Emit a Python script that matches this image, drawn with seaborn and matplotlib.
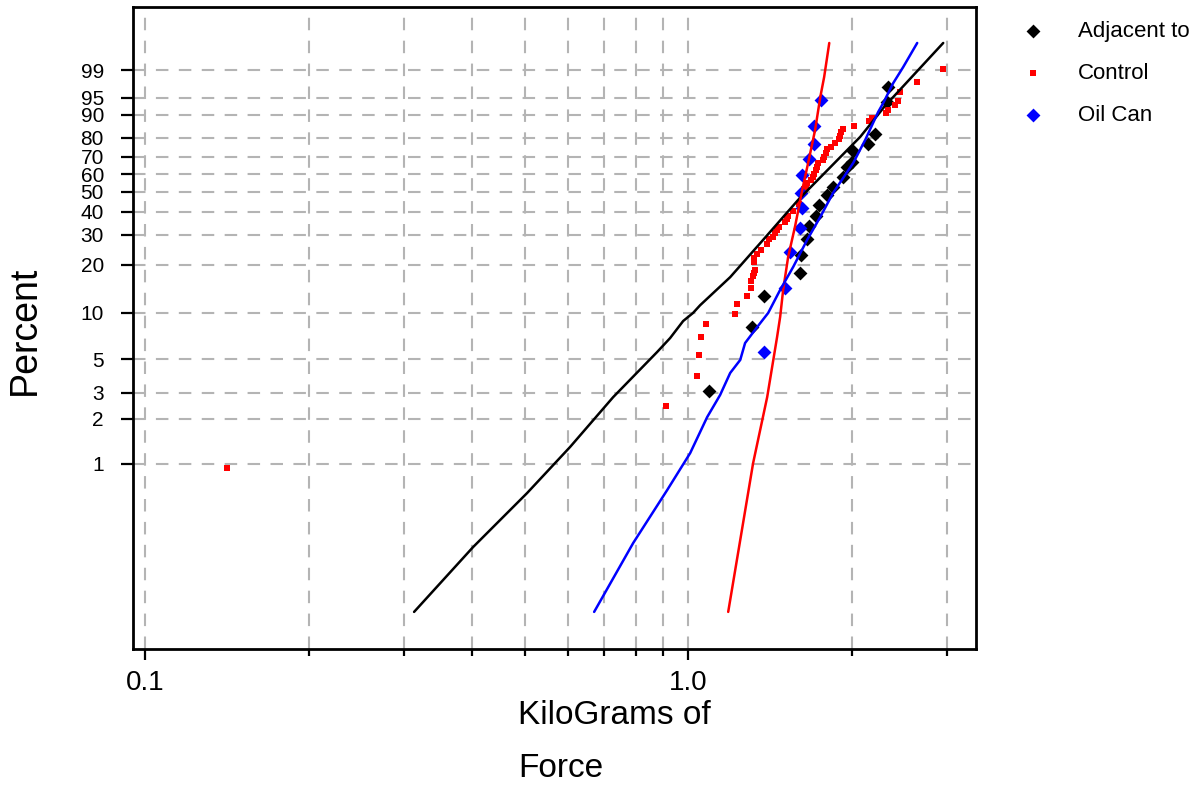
import numpy as np
import pandas as pd
import matplotlib
matplotlib.use("Agg")
import matplotlib.pyplot as plt
import seaborn as sns
from matplotlib.ticker import FixedLocator, NullLocator, FixedFormatter, NullFormatter

# --- data (x = kg of force, y = cumulative percent) ---
adj_force = [1.093, 1.312, 1.380, 1.608, 1.615, 1.656, 1.671, 1.721, 1.743, 1.803,
             1.849, 1.930, 1.963, 2.005, 2.013, 2.145, 2.210, 2.326, 2.335]
adj_pct = [3.08, 8.11, 12.8, 17.8, 22.9, 28.3, 33.5, 37.9, 43.2, 48.4,
           52.7, 58.3, 64.1, 66.9, 73.1, 76.9, 81.9, 94.0, 97.1]

ctl_force = [0.1416, 0.911, 1.039, 1.048, 1.057, 1.079, 1.220, 1.231, 1.284, 1.306,
             1.306, 1.317, 1.323, 1.328, 1.323, 1.323, 1.340, 1.363, 1.398, 1.410,
             1.434, 1.446, 1.458, 1.471, 1.509, 1.522, 1.528, 1.561, 1.601, 1.622,
             1.635, 1.649, 1.656, 1.685, 1.699, 1.706, 1.721, 1.728, 1.736, 1.773,
             1.780, 1.796, 1.803, 1.834, 1.865, 1.897, 1.905, 1.913, 1.930, 2.022,
             2.154, 2.182, 2.316, 2.335, 2.406, 2.436, 2.457, 2.641, 2.949]
ctl_pct = [0.94, 2.44, 3.87, 5.32, 6.99, 8.49, 9.84, 11.4, 12.8, 14.4,
           15.9, 17.1, 17.8, 18.6, 20.8, 22.0, 23.2, 24.5, 26.5, 28.3,
           29.1, 30.6, 31.9, 33.1, 35.2, 36.6, 37.9, 40.3, 43.7, 48.9,
           51.6, 53.3, 54.9, 56.6, 58.3, 60.0, 62.3, 64.1, 66.3, 68.1,
           69.8, 72.0, 74.2, 75.3, 77.4, 79.5, 81.0, 82.9, 84.3, 85.6,
           87.7, 88.9, 90.7, 91.7, 93.2, 94.3, 96.3, 97.9, 99.1]

oil_force = [1.380, 1.509, 1.541, 1.608, 1.622, 1.615, 1.622, 1.671, 1.706, 1.706, 1.758]
oil_pct = [5.57, 14.4, 23.8, 32.7, 41.7, 49.5, 59.5, 68.6, 76.9, 85.6, 94.5]

# fitted curves
adj_fit_x = [0.3128, 0.4018, 0.5053, 0.6064, 0.7277, 0.8767, 0.9265, 0.979, 1.021, 1.052,
             1.195, 1.374, 1.594, 2.074, 2.257, 2.326, 2.385, 2.949]
adj_fit_p = [0.1, 0.2745, 0.636, 1.30, 2.80, 5.57, 6.88, 8.87, 10.0, 11.2,
             16.8, 28.0, 45.8, 80.5, 91.0, 93.75, 95.2, 99.914]

ctl_fit_x = [1.185, 1.317, 1.398, 1.458, 1.477, 1.496, 1.528, 1.574, 1.622, 1.663,
             1.713, 1.751, 1.780, 1.803, 1.819]
ctl_fit_p = [0.1, 1.01, 2.80, 6.99, 9.42, 14.0, 22.3, 33.5, 51.1, 66.3,
             83.8, 95.2, 98.43, 99.66, 99.914]

oil_fit_x = [0.6712, 0.792, 0.915, 1.0085, 1.084, 1.145, 1.195, 1.247, 1.273, 1.340,
             1.404, 1.477, 1.561, 1.656, 1.751, 1.849, 2.013, 2.118, 2.238, 2.287,
             2.385, 2.489, 2.641]
oil_fit_p = [0.1, 0.292, 0.666, 1.18, 2.06, 2.89, 4.05, 4.94, 6.38, 8.11,
             10.0, 14.0, 19.4, 28.0, 37.5, 49.5, 66.3, 78.9, 91.0, 93.75,
             97.7, 99.22, 99.914]

y_ticks = [1, 2, 3, 5, 10, 20, 30, 40, 50, 60, 70, 80, 90, 95, 99]
x_major = [0.1, 1.0]
x_major_labels = ["0.1", "1.0"]
x_minor = [0.2, 0.3, 0.4, 0.5, 0.6, 0.7, 0.8, 0.9, 2, 3]

adj = pd.DataFrame({"force": adj_force, "pct": adj_pct})
ctl = pd.DataFrame({"force": ctl_force, "pct": ctl_pct})
oil = pd.DataFrame({"force": oil_force, "pct": oil_pct})


def weib(p):
    q = np.clip(np.asarray(p, dtype=float) / 100.0, 1e-12, 1 - 1e-12)
    return np.log(-np.log(1 - q))


def weib_inv(w):
    return 100.0 * (1 - np.exp(-np.exp(np.asarray(w, dtype=float))))


sns.set_style("white")
plt.rcParams["font.family"] = ["Liberation Sans", "DejaVu Sans"]
plt.rcParams["text.color"] = "black"
plt.rcParams["xtick.color"] = "black"
plt.rcParams["ytick.color"] = "black"

fig = plt.figure(figsize=(12.04, 7.89), dpi=100)
ax = fig.add_axes([0.1105, 0.1774, 0.7002, 0.8137])

sns.scatterplot(data=adj, x="force", y="pct", ax=ax, color="black", marker="D",
                s=50, linewidth=0, label="Adjacent to", zorder=3)
sns.scatterplot(data=ctl, x="force", y="pct", ax=ax, color="red", marker="s",
                s=18, linewidth=0, label="Control", zorder=3)
sns.scatterplot(data=oil, x="force", y="pct", ax=ax, color="blue", marker="D",
                s=50, linewidth=0, label="Oil Can", zorder=3)

sns.lineplot(x=adj_fit_x, y=adj_fit_p, ax=ax, color="black", lw=1.8, sort=False,
             estimator=None, zorder=4)
sns.lineplot(x=ctl_fit_x, y=ctl_fit_p, ax=ax, color="red", lw=1.8, sort=False,
             estimator=None, zorder=4)
sns.lineplot(x=oil_fit_x, y=oil_fit_p, ax=ax, color="blue", lw=1.8, sort=False,
             estimator=None, zorder=4)

ax.set_xscale("log")
ax.set_yscale("function", functions=(weib, weib_inv))
ax.set_xlim(0.0950, 3.39)
ax.set_ylim(0.0561, 99.99957)

ax.xaxis.set_major_locator(FixedLocator(x_major))
ax.xaxis.set_major_formatter(FixedFormatter(x_major_labels))
ax.xaxis.set_minor_locator(FixedLocator(x_minor))
ax.xaxis.set_minor_formatter(NullFormatter())
ax.yaxis.set_major_locator(FixedLocator(y_ticks))
ax.yaxis.set_major_formatter(FixedFormatter([str(t) for t in y_ticks]))
ax.yaxis.set_minor_locator(NullLocator())

grid_kw = dict(color="#b4b4b4", linestyle=(0, (6, 5)), linewidth=1.5)
ax.grid(True, which="both", axis="x", **grid_kw)
ax.grid(True, which="major", axis="y", **grid_kw)
ax.set_axisbelow(True)

ax.tick_params(axis="x", which="major", direction="out", length=8, width=1.6,
               labelsize=20, pad=7, bottom=True, colors="black")
ax.tick_params(axis="x", which="minor", direction="out", length=5, width=1.6, bottom=True)
ax.tick_params(axis="y", which="major", direction="out", length=9, width=1.6,
               labelsize=15, pad=12, left=True, colors="black")
for sp in ax.spines.values():
    sp.set_visible(True)
    sp.set_color("black")
    sp.set_linewidth(2.0)

ax.set_xlabel("")
ax.set_ylabel("")
fig.text(25 / 1204, 1 - 330 / 789, "Percent", rotation=90, ha="center", va="center",
         fontsize=27, color="black")
fig.text(518 / 1204, 1 - 700 / 789, "KiloGrams of\nForce", ha="left", va="top",
         multialignment="left", fontsize=24, linespacing=1.9, color="black")

leg = ax.legend(loc="upper left", bbox_to_anchor=(1011 / 1204, 1 - 12 / 789),
                bbox_transform=fig.transFigure, frameon=False, fontsize=16,
                handlelength=1.2, handletextpad=1.4, labelspacing=0.95, borderaxespad=0)
for t in leg.get_texts():
    t.set_color("black")

fig.savefig("out.png", dpi=100)
plt.close(fig)
